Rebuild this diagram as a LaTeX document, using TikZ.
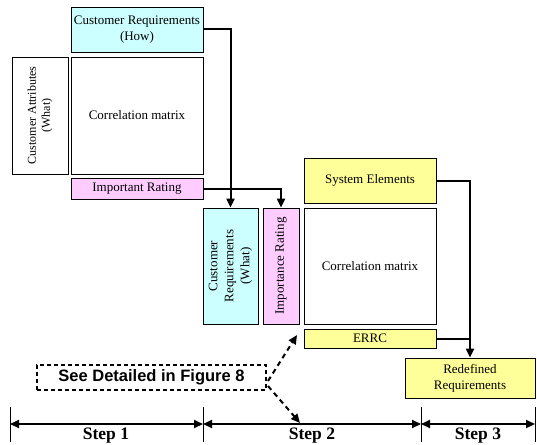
\documentclass[tikz,border=0pt]{standalone}
\usepackage{fontspec}
\setmainfont{Liberation Serif}
\newfontfamily\labelsans{Liberation Sans}
\usetikzlibrary{arrows.meta,calc}
\definecolor{howcyan}{HTML}{CCFFFF}
\definecolor{ratepink}{HTML}{FFCCFF}
\definecolor{sysyellow}{HTML}{FFFF99}
\tikzset{
  box/.style={draw=black, line width=0.8pt, inner sep=0pt, align=center,
    font=\fontsize{13}{16}\selectfont},
  flow/.style={line width=2pt, -{Triangle[length=9pt,width=8pt]}},
  link/.style={line width=2pt},
  hint/.style={line width=2pt, dashed, dash pattern=on 5pt off 4pt,
    -{Triangle[length=9pt,width=8pt]}},
  span/.style={line width=2pt, {Triangle[length=9pt,width=8pt]}-{Triangle[length=9pt,width=8pt]}},
  tick/.style={line width=0.8pt},
  steplabel/.style={font=\fontsize{17.5}{20}\selectfont\bfseries, anchor=base, inner sep=0pt}
}
\begin{document}
\begin{tikzpicture}[x=1pt,y=-1pt]
\useasboundingbox (0,0) rectangle (537,444);

% Step 1: first house of quality
\node[box, fill=howcyan, minimum width=132, minimum height=45] (crhow) at (137,29.5)
  {Customer Requirements\\(How)};
\node[box, rotate=90, minimum width=117, minimum height=56,
  font=\fontsize{12}{14}\selectfont] (attr) at (40,115.5)
  {Customer Attributes\\(What)};
\node[box, minimum width=132, minimum height=117] (cm1) at (137,115.5) {Correlation matrix};
\node[box, fill=ratepink, minimum width=132, minimum height=21] (irate1) at (137,188.5)
  {Important Rating};

% Step 2: second house of quality
\node[box, fill=howcyan, rotate=90, minimum width=116, minimum height=55] (crwhat) at (230.5,266)
  {Customer\\Requirements\\(What)};
\node[box, fill=ratepink, rotate=90, minimum width=116, minimum height=36] (irate2) at (281,266)
  {Importance Rating};
\node[box, minimum width=132, minimum height=116] (cm2) at (370,266) {Correlation matrix};
\node[box, fill=sysyellow, minimum width=132, minimum height=45] (sys) at (370,180.5)
  {System Elements};
\node[box, fill=sysyellow, minimum width=132, minimum height=19] (errc) at (370,338.5) {ERRC};

% Step 3
\node[box, fill=sysyellow, minimum width=130, minimum height=40] (redef) at (470,378)
  {Redefined\\Requirements};

% Reference note
\node[draw=black, line width=1.5pt, dashed, dash pattern=on 4pt off 3pt,
  minimum width=229, minimum height=25, inner sep=0pt,
  font=\labelsans\fontsize{16.5}{18}\selectfont\bfseries] (note) at (151.5,377.5)
  {See Detailed in Figure 8};

% Flow connectors
\draw[flow] (crhow.east) -| (crwhat.east);
\draw[flow] (irate1.east) -| (irate2.east);
\draw[flow] (sys.east) -| (redef.north);
\draw[link] (errc.east) -- (errc.east -| redef.north);

% Note pointers
\coordinate (noteA) at (268,381);
\coordinate (noteB) at (268,386);
\coordinate (tipA) at (297,335);
\coordinate (tipB) at (300,423);
\draw[hint] (noteA) -- (tipA);
\draw[hint] (noteB) -- (tipB);

% Step timeline
\coordinate (t0) at (10,424);
\coordinate (t1) at (203,424);
\coordinate (t2) at (421,424);
\coordinate (t3) at (535,424);
\foreach \t in {t0,t1,t2,t3}
  \draw[tick] ($(\t)+(0,-17)$) -- ($(\t)+(0,18)$);
\draw[span] (t0) -- (t1);
\draw[span] (t1) -- (t2);
\draw[span] (t2) -- (t3);
\node[steplabel] (s1) at (106,439.5) {Step 1};
\node[steplabel] (s2) at (312,439.5) {Step 2};
\node[steplabel] (s3) at (478,439.5) {Step 3};
\end{tikzpicture}
\end{document}
